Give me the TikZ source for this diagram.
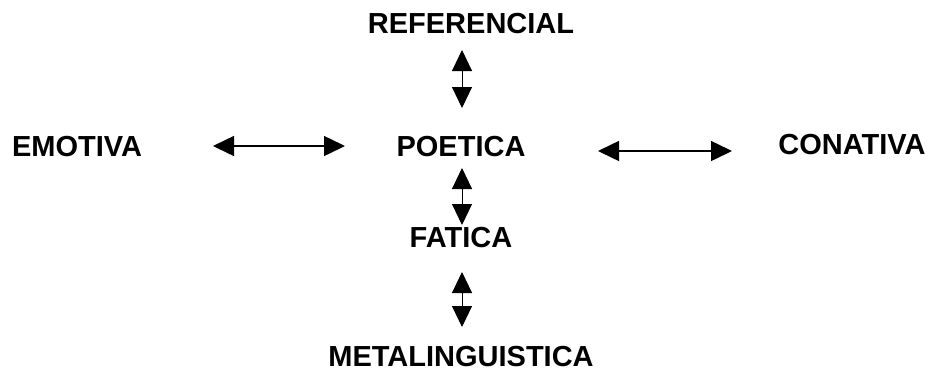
\documentclass[tikz,border=0pt]{standalone}
\usepackage{fontspec}
\setmainfont{Liberation Sans}
\usetikzlibrary{arrows.meta}

\begin{document}
\begin{tikzpicture}[
    x=1pt, y=-1pt,
    func/.style={font=\fontsize{29}{32}\selectfont\bfseries, inner sep=0pt},
    arrow/.style={{Triangle[length=21pt,width=20pt]}-{Triangle[length=21pt,width=20pt]}, line width=1.5pt},
    varrow/.style={arrow, line width=1pt}
]
\useasboundingbox (0,0) rectangle (936,389);

% --- Functions ---
\node[func] (ref)  at (471,24)  {REFERENCIAL};
\node[func] (emo)  at (77,147)  {EMOTIVA};
\node[func] (poe)  at (461,147) {POETICA};
\node[func] (con)  at (852,145) {CONATIVA};
\node[func] (fat)  at (461,238) {FATICA};
\node[func] (meta) at (461,357) {METALINGUISTICA};

% --- Arrow ends ---
\coordinate (ref-a)  at (462,50);
\coordinate (ref-b)  at (462,108);
\coordinate (emo-a)  at (213,146);
\coordinate (emo-b)  at (345,146);
\coordinate (con-a)  at (598,151);
\coordinate (con-b)  at (732,151);
\coordinate (fat-a)  at (462,168);
\coordinate (fat-b)  at (462,225);
\coordinate (meta-a) at (462,272);
\coordinate (meta-b) at (462,327);

% --- Arrows ---
\draw[varrow] (ref-a) -- (ref-b);
\draw[arrow] (emo-a) -- (emo-b);
\draw[arrow] (con-a) -- (con-b);
\draw[varrow] (fat-a) -- (fat-b);
\draw[varrow] (meta-a) -- (meta-b);

\end{tikzpicture}
\end{document}
